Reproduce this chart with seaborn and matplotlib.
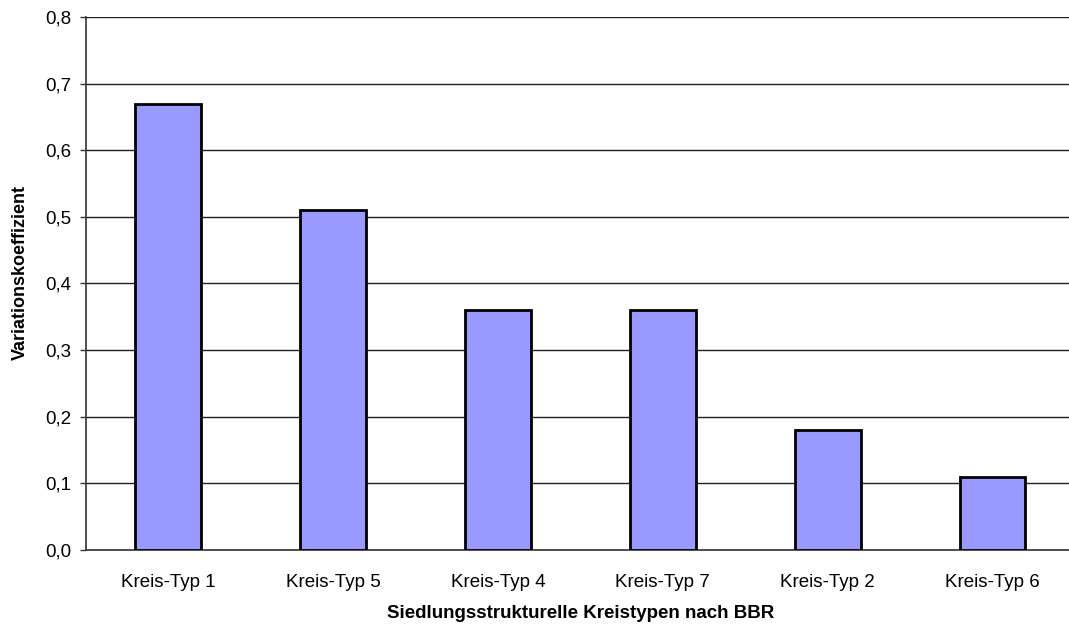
import numpy as np
import matplotlib
matplotlib.use("Agg")
import matplotlib.pyplot as plt
import seaborn as sns

categories = ["Kreis-Typ 1", "Kreis-Typ 5", "Kreis-Typ 4", "Kreis-Typ 7", "Kreis-Typ 2", "Kreis-Typ 6"]
values = [0.67, 0.51, 0.36, 0.36, 0.18, 0.11]
y_ticks = [0.0, 0.1, 0.2, 0.3, 0.4, 0.5, 0.6, 0.7, 0.8]
y_tick_labels = ["0,0", "0,1", "0,2", "0,3", "0,4", "0,5", "0,6", "0,7", "0,8"]

sns.set_style("white")
plt.rcParams["font.family"] = ["Liberation Sans", "DejaVu Sans"]
plt.rcParams["text.color"] = "black"
plt.rcParams["axes.labelcolor"] = "black"
plt.rcParams["xtick.color"] = "black"
plt.rcParams["ytick.color"] = "black"

fig = plt.figure(figsize=(10.69, 6.25), dpi=100)
ax = fig.add_axes([0.0805, 0.12, 0.925, 0.853])

sns.barplot(x=categories, y=values, color="#9999FF", saturation=1,
            edgecolor="black", linewidth=2, width=0.4, ax=ax, zorder=3)

ax.set_xlim(-0.5, len(categories) - 0.5)
ax.set_ylim(0, 0.8)
ax.set_yticks(y_ticks)
ax.set_yticklabels(y_tick_labels, fontsize=13.5)
ax.yaxis.grid(True, color="#222222", linewidth=1)
ax.set_axisbelow(True)

ax.set_xticks(range(len(categories)))
ax.set_xticklabels(categories, fontsize=13.5)
ax.set_xticks(np.arange(-0.5, len(categories) - 0.5, 1), minor=True)
ax.tick_params(axis="x", which="major", length=0, pad=17, labelcolor="black")
ax.tick_params(axis="x", which="minor", length=4.3, width=1, color="#333333")
ax.tick_params(axis="y", which="major", length=4.3, width=1, color="#333333",
               pad=6.5, left=True, labelcolor="black")

for side in ["top", "right"]:
    ax.spines[side].set_visible(False)
for side in ["left", "bottom"]:
    ax.spines[side].set_color("#333333")
    ax.spines[side].set_linewidth(1.2)

ax.set_xlabel("Siedlungsstrukturelle Kreistypen nach BBR", fontsize=13.5,
              fontweight="bold", labelpad=10, color="black")
ax.set_ylabel("Variationskoeffizient", fontsize=13, fontweight="bold", color="black")
ax.yaxis.set_label_coords(-0.0575, 0.52)

fig.savefig("out.png", dpi=100)
